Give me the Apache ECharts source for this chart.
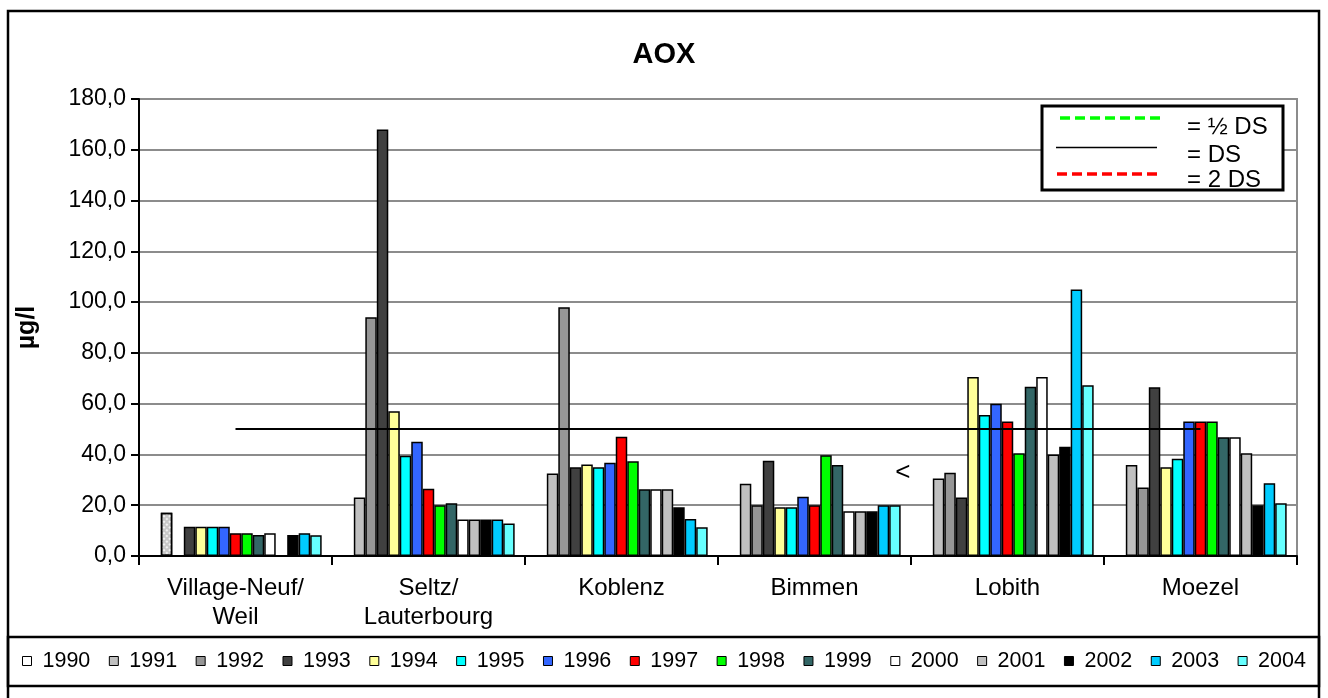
<!DOCTYPE html>
<html>
<head>
<meta charset="utf-8">
<script src="https://cdn.jsdelivr.net/npm/echarts@6/dist/echarts.min.js"></script>
<style>
html,body{margin:0;padding:0;background:#fff;}
#main{width:1328px;height:698px;}
</style>
</head>
<body>
<div id="main"></div>
<script>
// ---- data ----
const categories = ['Village-Neuf/\nWeil', 'Seltz/\nLauterbourg', 'Koblenz', 'Bimmen', 'Lobith', 'Moezel'];
const years = ['1990','1991','1992','1993','1994','1995','1996','1997','1998','1999','2000','2001','2002','2003','2004'];
const y1990 = [null, null, null, null, null, null];
const y1991 = [17, 23, 32.5, 28.5, 30.5, 35.8];
const y1992 = [null, 94, 98, 20, 32.8, 27];
const y1993 = [11.5, 168, 35, 37.5, 23, 66.5];
const y1994 = [11.5, 57, 36, 19.2, 70.5, 35];
const y1995 = [11.5, 39.5, 35, 19.2, 55.5, 38.3];
const y1996 = [11.5, 45, 36.7, 23.3, 60, 53];
const y1997 = [9, 26.5, 47, 20, 53, 53];
const y1998 = [9, 20, 37.3, 39.7, 40.5, 53];
const y1999 = [8.3, 20.8, 26.3, 35.8, 66.7, 46.8];
const y2000 = [9, 14.4, 26.3, 17.6, 70.5, 46.8];
const y2001 = [null, 14.4, 26.3, 17.6, 40, 40.5];
const y2002 = [8.3, 14.4, 19.2, 17.6, 43, 20];
const y2003 = [9, 14.4, 14.6, 20, 105, 28.7];
const y2004 = [8.2, 12.8, 11.3, 20, 67.3, 20.8];
const dsLine = [50, 50, 50, 50, 50, 50];
const yTicks = [0, 20, 40, 60, 80, 100, 120, 140, 160, 180];
const hatchedPoint = { year: '1991', category: 'Village-Neuf/\nWeil' };
const notePoint = { year: '2004', category: 'Bimmen', text: '<' };
const legendLabels = ['= ½ DS', '= DS', '= 2 DS'];

const values = [y1990,y1991,y1992,y1993,y1994,y1995,y1996,y1997,y1998,y1999,y2000,y2001,y2002,y2003,y2004];
const colors = ['#FFFFFF','#C0C0C0','#969696','#404040','#FFFF99','#00FFFF','#3366FF','#FF0000','#00FF00','#336666','#FFFFFF','#C0C0C0','#000000','#00CCFF','#66FFFF'];
const FONT = "'Liberation Sans', Arial, sans-serif";

const series = years.map((yr, si) => ({
  name: yr,
  type: 'bar',
  barGap: '0%',
  barCategoryGap: '10.7%',
  itemStyle: { color: colors[si], borderColor: '#000', borderWidth: 1.5 },
  emphasis: { disabled: true },
  data: values[si].map((v, ci) => {
    const item = { value: v };
    if (yr === hatchedPoint.year && categories[ci] === hatchedPoint.category) {
      item.itemStyle = {
        color: '#C8C8C8',
        decal: { color: 'rgba(255,255,255,0.75)', dashArrayX: [2, 2], dashArrayY: [2, 2], symbol: 'rect', symbolSize: 1, rotation: Math.PI / 4 }
      };
    }
    if (yr === notePoint.year && categories[ci] === notePoint.category) {
      item.label = { show: true, position: 'top', formatter: notePoint.text, fontSize: 26, fontFamily: FONT, color: '#000', offset: [8, -14] };
    }
    return item;
  })
}));

series.push({
  name: 'DS',
  type: 'line',
  data: dsLine,
  symbol: 'none',
  silent: true,
  z: 5,
  lineStyle: { color: '#000', width: 2 }
});

const chart = echarts.init(document.getElementById('main'));
chart.setOption({
  animation: false,
  backgroundColor: '#fff',
  textStyle: { fontFamily: FONT },
  title: {
    text: 'AOX', left: 'center', top: 35,
    textStyle: { fontSize: 29, fontWeight: 'bold', color: '#000', fontFamily: FONT }
  },
  grid: { left: 139, right: 31, top: 99, bottom: 142, show: true, borderColor: '#8c8c8c', borderWidth: 2, containLabel: false },
  legend: {
    data: years,
    left: 22, top: 650, padding: 0,
    itemWidth: 9, itemHeight: 9, itemGap: 18.5,
    icon: 'rect',
    itemStyle: { borderWidth: 1, borderColor: '#000' },
    textStyle: { fontSize: 21.5, color: '#000', fontFamily: FONT, padding: [0, 0, 0, 6] },
    selectedMode: false
  },
  xAxis: {
    type: 'category',
    data: categories,
    axisLine: { lineStyle: { color: '#000', width: 2 } },
    axisTick: { show: true, length: 9, lineStyle: { color: '#000', width: 2 } },
    axisLabel: { fontSize: 24, color: '#000', fontFamily: FONT, margin: 18, lineHeight: 29, interval: 0 },
    splitLine: { show: false }
  },
  yAxis: {
    type: 'value',
    min: yTicks[0], max: yTicks[yTicks.length - 1], interval: yTicks[1] - yTicks[0],
    name: 'µg/l', nameLocation: 'middle', nameGap: 99,
    nameTextStyle: { fontSize: 25, fontWeight: 'bold', color: '#000', fontFamily: FONT },
    axisLine: { show: true, lineStyle: { color: '#000', width: 2 } },
    axisTick: { show: true, length: 8, lineStyle: { color: '#000', width: 2 } },
    axisLabel: { fontSize: 23, color: '#000', fontFamily: FONT, margin: 13, formatter: v => v.toFixed(1).replace('.', ',') },
    splitLine: { show: true, lineStyle: { color: '#8c8c8c', width: 2 } }
  },
  graphic: [
    { type: 'rect', shape: { x: 8, y: 11, width: 1311, height: 700 }, style: { fill: 'none', stroke: '#000', lineWidth: 2.5 }, silent: true, z: 100 },
    { type: 'rect', shape: { x: 8, y: 637, width: 1311, height: 49 }, style: { fill: 'none', stroke: '#000', lineWidth: 2.5 }, silent: true, z: 100 },
    { type: 'rect', shape: { x: 1042, y: 106, width: 241, height: 84 }, style: { fill: '#fff', stroke: '#000', lineWidth: 3 }, z: 100, silent: true },
    { type: 'line', shape: { x1: 1060, y1: 118, x2: 1165, y2: 118 }, style: { stroke: '#00FF00', lineWidth: 3.5, lineDash: [10, 5] }, z: 101, silent: true },
    { type: 'line', shape: { x1: 1056, y1: 147.5, x2: 1157, y2: 147.5 }, style: { stroke: '#000', lineWidth: 1.5 }, z: 101, silent: true },
    { type: 'line', shape: { x1: 1057, y1: 174, x2: 1162, y2: 174 }, style: { stroke: '#FF0000', lineWidth: 3.5, lineDash: [10, 5] }, z: 101, silent: true },
    { type: 'text', x: 1187, y: 127, style: { text: legendLabels[0], fontSize: 24, fontFamily: FONT, fill: '#000', verticalAlign: 'middle' }, z: 101, silent: true },
    { type: 'text', x: 1187, y: 155, style: { text: legendLabels[1], fontSize: 24, fontFamily: FONT, fill: '#000', verticalAlign: 'middle' }, z: 101, silent: true },
    { type: 'text', x: 1187, y: 180, style: { text: legendLabels[2], fontSize: 24, fontFamily: FONT, fill: '#000', verticalAlign: 'middle' }, z: 101, silent: true }
  ],
  series: series
});
</script>
</body>
</html>
